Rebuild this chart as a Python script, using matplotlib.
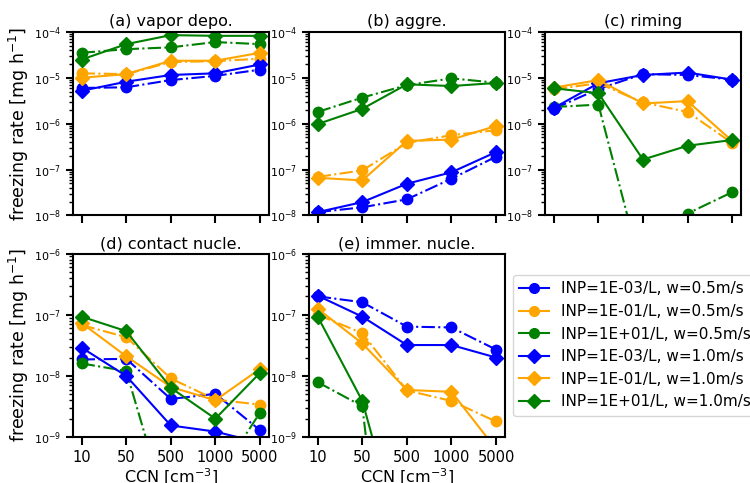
import matplotlib
matplotlib.use("Agg")
import matplotlib.pyplot as plt
from matplotlib.lines import Line2D
import numpy as np

ccn_labels = ["10", "50", "500", "1000", "5000"]
inp_labels = ["1E-03", "1E-01", "1E+01"]
colors = ["blue", "orange", "green"]
titles = ["(a) vapor depo.", "(b) aggre.", "(c) riming",
          "(d) contact nucle.", "(e) immer. nucle."]

# w = 0.5 m/s (circles, dash-dot), rows: INP 1E-03, 1E-01, 1E+01
vapor_w05 = [[6.0e-6, 6.2e-6, 8.9e-6, 1.1e-5, 1.5e-5],
             [1.25e-5, 1.2e-5, 2.2e-5, 2.3e-5, 2.6e-5],
             [3.5e-5, 4.2e-5, 4.6e-5, 6.0e-5, 5.4e-5]]
aggre_w05 = [[1.18e-8, 1.5e-8, 2.24e-8, 6.3e-8, 1.9e-7],
             [6.9e-8, 9.6e-8, 3.8e-7, 5.6e-7, 7.2e-7],
             [1.8e-6, 3.7e-6, 6.9e-6, 9.7e-6, 7.8e-6]]
riming_w05 = [[2.1e-6, 5.7e-6, 1.2e-5, 1.15e-5, 9.1e-6],
              [5.6e-6, 7.6e-6, 2.9e-6, 1.8e-6, 3.8e-7],
              [2.3e-6, 2.6e-6, 5e-10, 1.1e-8, 3.2e-8]]
contact_w05 = [[1.86e-8, 1.9e-8, 4.2e-9, 5.1e-9, 1.3e-9],
               [6.8e-8, 4.3e-8, 9.1e-9, 4.1e-9, 3.4e-9],
               [1.6e-8, 1.2e-8, 4e-11, 1.9e-10, 2.5e-9]]
immer_w05 = [[2.0e-7, 1.6e-7, 6.4e-8, 6.2e-8, 2.7e-8],
             [1.0e-7, 5.0e-8, 5.8e-9, 3.9e-9, 1.8e-9],
             [7.9e-9, 3.2e-9, 2e-15, 1e-15, 1e-15]]

# w = 1.0 m/s (diamonds, solid)
vapor_w10 = [[5.2e-6, 8.2e-6, 1.15e-5, 1.25e-5, 1.95e-5],
             [1.0e-5, 1.2e-5, 2.35e-5, 2.35e-5, 3.5e-5],
             [2.5e-5, 5.4e-5, 8.5e-5, 8.2e-5, 8.2e-5]]
aggre_w10 = [[1.18e-8, 1.95e-8, 4.9e-8, 8.7e-8, 2.4e-7],
             [6.6e-8, 5.8e-8, 4.2e-7, 4.5e-7, 8.9e-7],
             [9.8e-7, 2.1e-6, 7.2e-6, 6.6e-6, 7.7e-6]]
riming_w10 = [[2.2e-6, 7.6e-6, 1.15e-5, 1.3e-5, 9.1e-6],
              [6.1e-6, 8.9e-6, 2.75e-6, 3.1e-6, 4.2e-7],
              [5.9e-6, 4.6e-6, 1.65e-7, 3.3e-7, 4.4e-7]]
contact_w10 = [[2.9e-8, 1.0e-8, 1.55e-9, 1.23e-9, 8.1e-10],
               [7.3e-8, 2.1e-8, 6.6e-9, 4.0e-9, 1.3e-8],
               [9.3e-8, 5.4e-8, 6.4e-9, 2.0e-9, 1.12e-8]]
immer_w10 = [[2.05e-7, 9.3e-8, 3.2e-8, 3.2e-8, 2.0e-8],
             [1.25e-7, 3.4e-8, 5.9e-9, 5.5e-9, 6.4e-10],
             [9.3e-8, 3.9e-9, 9e-12, 1e-12, 1e-12]]

data_w05 = [vapor_w05, aggre_w05, riming_w05, contact_w05, immer_w05]
data_w10 = [vapor_w10, aggre_w10, riming_w10, contact_w10, immer_w10]
ylims = [(1e-8, 1e-4)] * 3 + [(1e-9, 1e-6)] * 2

plt.rcParams['axes.linewidth'] = 1.5
plt.rcParams['xtick.major.width'] = 1.5
plt.rcParams['ytick.major.width'] = 1.5
plt.rcParams['ytick.minor.width'] = 1.0
plt.rcParams['xtick.major.size'] = 5.5
plt.rcParams['ytick.major.size'] = 5
plt.rcParams['ytick.minor.size'] = 3

fig, axes = plt.subplots(2, 3, figsize=(7.5, 4.83), dpi=100)
fig.subplots_adjust(left=0.097, right=0.988, bottom=0.095, top=0.934,
                    wspace=0.204, hspace=0.208)
axes = axes.flatten()
x = np.arange(len(ccn_labels))

for i in range(5):
    ax = axes[i]
    for j in range(3):
        ax.plot(x, data_w05[i][j], '-.', color=colors[j], marker='o',
                ms=7.5, lw=1.5)
    for j in range(3):
        ax.plot(x, data_w10[i][j], '-', color=colors[j], marker='D',
                ms=7, lw=1.5)
    ax.set_yscale('log')
    ax.set_ylim(ylims[i])
    ax.set_xticks(x)
    ax.set_title(titles[i], fontsize=11.5, pad=4)
    ax.tick_params(axis='y', labelsize=8)
    if i >= 3:
        ax.set_xticklabels(ccn_labels, fontsize=10.5)
        ax.set_xlabel(r'CCN [cm$^{-3}$]', fontsize=11.5, labelpad=2)
    else:
        ax.set_xticklabels([])
    if i in (0, 3):
        ax.set_ylabel(r'freezing rate [mg h$^{-1}$]', fontsize=12.5, labelpad=2)

axes[5].axis('off')

handles = []
labels = []
for w, mk in [("0.5", 'o'), ("1.0", 'D')]:
    for j in range(3):
        handles.append(Line2D([], [], color=colors[j], marker=mk, ms=7, lw=1.5))
        labels.append("INP=%s/L, w=%sm/s" % (inp_labels[j], w))
axes[4].legend(handles, labels, loc='center left', bbox_to_anchor=(1.0, 0.5),
               fontsize=11, handlelength=2.0)

plt.savefig("out.png")
